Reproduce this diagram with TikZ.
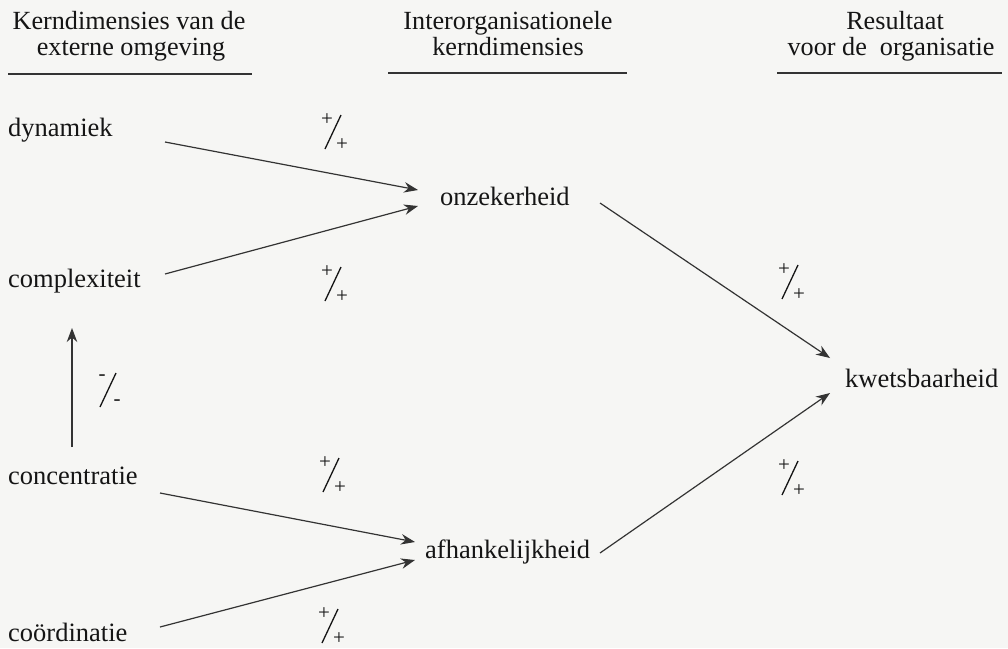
\documentclass[tikz,border=0pt]{standalone}
\usepackage{fontspec}
\setmainfont{Liberation Serif}
\usetikzlibrary{arrows.meta,calc}

\definecolor{ink}{HTML}{151515}
\definecolor{wire}{HTML}{333333}
\definecolor{paper}{HTML}{F6F6F4}

\begin{document}
\begin{tikzpicture}[x=1pt,y=-1pt,
  lbl/.style={anchor=base west,inner sep=0pt,text=ink,font=\fontsize{26.5}{28}\selectfont},
  head/.style={anchor=base,inner sep=0pt,text=ink,font=\fontsize{26.2}{28}\selectfont},
  rule/.style={draw=wire,line width=1.2pt},
  arr/.style={draw=wire,line width=1.2pt,-{Stealth[length=14pt,width=10.5pt]}},
  sgnchar/.style={inner sep=0pt,text=ink,font=\fontsize{21}{21}\selectfont},
  slash/.style={draw=ink,line width=1.3pt},
  % sign of a relation: small sign above, long slash, small sign below
  pics/signs/.style 2 args={code={
    \node[sgnchar] (-up) at (-6,-12) {#1};
    \draw[slash] (8,-17) -- (-8,17);
    \node[sgnchar] (-dn) at (9,13) {#2};
  }}]

  \fill[paper] (0,0) rectangle (1008,648);
  \useasboundingbox (0,0) rectangle (1008,648);

  % column headings
  \node[head] (h1a) at (129,29) {Kerndimensies van de};
  \node[head] (h1b) at (131,55) {externe omgeving};
  \node[head] (h2a) at (508,29) {Interorganisationele};
  \node[head] (h2b) at (508,55) {kerndimensies};
  \node[head] (h3a) at (895,29) {Resultaat};
  \node[head] (h3b) at (891,55) {voor de~~organisatie};
  \draw[rule] (8,74) -- (252,74);
  \draw[rule] (388,73) -- (627,73);
  \draw[rule] (777,73) -- (1002,73);

  % dimensions
  \node[lbl] (dyn) at (8,136) {dynamiek};
  \node[lbl] (cpx) at (8,287) {complexiteit};
  \node[lbl] (con) at (8,484) {concentratie};
  \node[lbl] (coo) at (8,641) {coördinatie};
  \node[lbl] (onz) at (440,205) {onzekerheid};
  \node[lbl] (afh) at (425,558) {afhankelijkheid};
  \node[lbl] (kwe) at (845,387) {kwetsbaarheid};

  % relations
  \draw[arr] ($(dyn.base west)+(157,6)$) -- ($(onz.base west)+(-22,-15)$);
  \draw[arr] ($(cpx.base west)+(157,-13)$) -- ($(onz.base west)+(-22,1)$);
  \draw[arr] ($(con.base west)+(152,9)$) -- ($(afh.base west)+(-10,-16)$);
  \draw[arr] ($(coo.base west)+(152,-14)$) -- ($(afh.base west)+(-10,2)$);
  \draw[arr] ($(con.base west)+(64,-37)$) -- ($(cpx.base west)+(64,41)$);
  \draw[arr] ($(onz.base west)+(160,-2)$) -- ($(kwe.base west)+(-15,-29)$);
  \draw[arr] ($(afh.base west)+(175,-5)$) -- ($(kwe.base west)+(-15,6)$);

  % signs of the relations
  \pic (s1) at (333,132) {signs={+}{+}};
  \pic (s2) at (333,284) {signs={+}{+}};
  \pic (s3) at (331,475) {signs={+}{+}};
  \pic (s4) at (330,626) {signs={+}{+}};
  \pic (s5) at (108,390) {signs={-}{-}};
  \pic (s6) at (790,282) {signs={+}{+}};
  \pic (s7) at (790,478) {signs={+}{+}};
\end{tikzpicture}
\end{document}
